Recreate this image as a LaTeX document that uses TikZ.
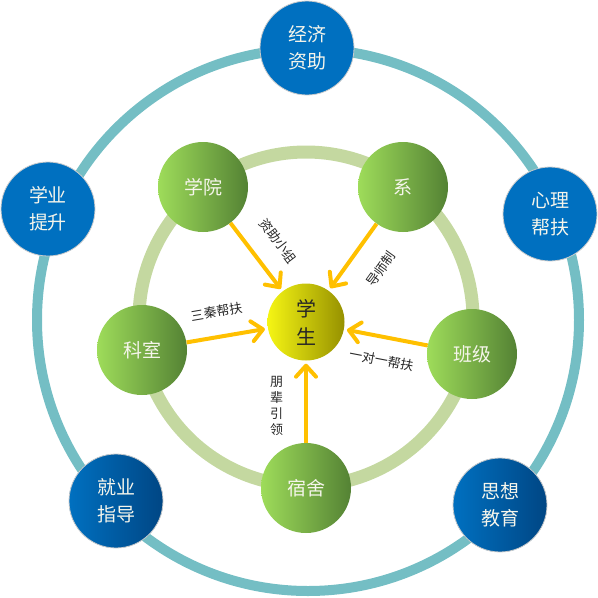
\documentclass[tikz,border=0pt]{standalone}
\usepackage{fontspec}
\setmainfont{Noto Sans CJK SC}
\usetikzlibrary{arrows.meta}
\definecolor{ringouter}{RGB}{116,190,196}
\definecolor{ringinner}{RGB}{196,216,160}
\definecolor{bluenode}{RGB}{0,112,192}
\definecolor{bluedark}{RGB}{0,70,132}
\definecolor{greenlight}{RGB}{158,220,90}
\definecolor{greendark}{RGB}{84,130,52}
\definecolor{yellowlight}{RGB}{245,245,20}
\definecolor{yellowdark}{RGB}{150,145,0}
\definecolor{flowcol}{RGB}{255,192,0}
\definecolor{textlight}{RGB}{245,245,235}
\tikzset{
    ring/.style={
        line width=10pt
    },
    lbl/.style={
        font=\fontsize{13}{16}\selectfont,
        text=black!85,
        align=center,
        inner sep=1pt
    },
    flow/.style={-{Straight Barb[length=11pt,width=20pt,round]}, line width=4pt, draw=flowcol, shorten >=3pt}
}

\begin{document}
\begin{tikzpicture}[
    x=1pt, y=-1pt,
    circ/.style={
        circle,
        inner sep=0pt,
        align=center,
        text=textlight
    },
    aid/.style={circ, minimum size=94pt, fill=bluenode, draw=black!20, line width=0.8pt,
        font=\fontsize{19}{27}\selectfont},
    aidshade/.style={aid, left color=bluenode, middle color=bluenode, right color=bluedark},
    dept/.style={circ, minimum size=90pt, left color=greenlight, right color=greendark,
        font=\fontsize{19}{27}\selectfont},
    student/.style={circ, minimum size=77pt, left color=yellowlight, right color=yellowdark,
        text=black!85, font=\fontsize{20}{28}\selectfont}
]
\useasboundingbox (0,0) rectangle (598,598);

% rings
\draw[ring, draw=ringouter] (308,320) circle (271);
\draw[ring, line width=13pt, draw=ringinner] (306,319) circle (167);

% centre and green nodes
\node[student] (xs) at (306,322) {学\\生};
\node[dept] (xy) at (203,187) {学院};
\node[dept] (xi) at (403,187) {系};
\node[dept] (bj) at (472,354) {班级};
\node[dept] (ss) at (306,488) {宿舍};
\node[dept] (ks) at (142,350) {科室};

% blue nodes
\node[aid] (jj) at (307,48) {经济\\资助};
\node[aid] (xl) at (550,214) {心理\\帮扶};
\node[aidshade] (sx) at (500,505) {思想\\教育};
\node[aidshade] (jy) at (116,501) {就业\\指导};
\node[aid] (xt) at (48,209) {学业\\提升};

\draw[flow] (xy) -- node[lbl, sloped, above=18pt, pos=0.5] {资助小组} (xs);
\draw[flow] (xi) -- node[lbl, sloped, below=21pt, pos=0.42] {导师制} (xs);
\draw[flow] (ks) -- node[lbl, sloped, above=16pt, pos=0.42] {三秦帮扶} (xs);
\draw[flow] (bj) -- node[lbl, sloped, below=14pt, pos=0.5] {一对一帮扶} (xs);
\draw[flow] (ss) -- node[lbl, left=20pt, pos=0.45] {朋\\辈\\引\\领} (xs);

\end{tikzpicture}
\end{document}
